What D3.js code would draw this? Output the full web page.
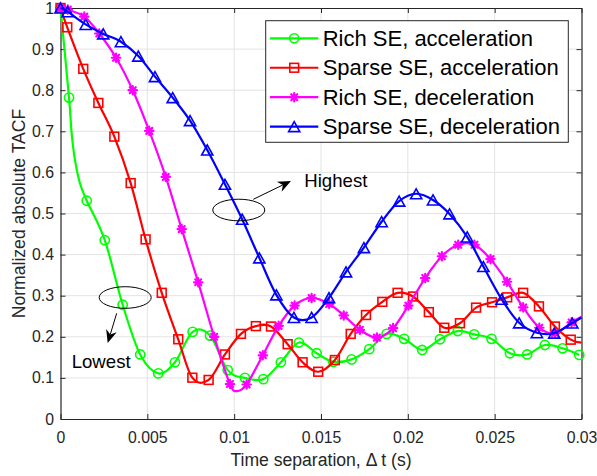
<!DOCTYPE html>
<html>
<head>
<meta charset="utf-8">
<script src="https://cdn.jsdelivr.net/npm/d3@7"></script>
<style>
  html, body { margin: 0; padding: 0; background: #ffffff; }
  svg { display: block; }
  text { font-family: "Liberation Sans", Arial, Helvetica, sans-serif; }
</style>
</head>
<body>
<svg id="chart" width="597" height="476"></svg>
<script>
// ---- data: normalized absolute TACF vs. time separation (s) ----
const seriesNames = [
  "Rich SE, acceleration",
  "Sparse SE, acceleration",
  "Rich SE, deceleration",
  "Sparse SE, deceleration"
];
const seriesColors = ["#00ff00", "#ff0000", "#ff00ff", "#0000ff"];
const seriesMarkers = ["circle", "square", "asterisk", "triangle"];

// marker samples
const richAccelT = [0, 0.00049, 0.00151, 0.00255, 0.00358, 0.00459, 0.00563, 0.00659, 0.00761, 0.00861,
  0.00963, 0.01062, 0.01168, 0.01269, 0.01373, 0.01475, 0.01571, 0.01676, 0.01778, 0.01878,
  0.01979, 0.02083, 0.02185, 0.02287, 0.02382, 0.02482, 0.02588, 0.02687, 0.02789, 0.02891, 0.02987];
const richAccelV = [1.0, 0.782, 0.531, 0.435, 0.278, 0.157, 0.111, 0.138, 0.212, 0.203,
  0.119, 0.100, 0.097, 0.138, 0.186, 0.160, 0.139, 0.145, 0.170, 0.207,
  0.195, 0.168, 0.194, 0.214, 0.206, 0.195, 0.160, 0.157, 0.180, 0.172, 0.156];

const sparseAccelT = [0, 0.00039, 0.00131, 0.00218, 0.0031, 0.00404, 0.0049, 0.00583, 0.00678, 0.00759,
  0.00853, 0.00947, 0.01039, 0.01125, 0.01212, 0.01308, 0.01394, 0.01484, 0.0158, 0.01671,
  0.01759, 0.01853, 0.01941, 0.0203, 0.02121, 0.0221, 0.023, 0.02393, 0.02485, 0.02572,
  0.02664, 0.02755, 0.02847, 0.02938];
const sparseAccelV = [1.0, 0.953, 0.852, 0.769, 0.687, 0.574, 0.437, 0.307, 0.194, 0.1005,
  0.095, 0.157, 0.207, 0.226, 0.225, 0.182, 0.138, 0.115, 0.1435, 0.207,
  0.253, 0.285, 0.307, 0.298, 0.260, 0.222, 0.233, 0.271, 0.284, 0.296,
  0.307, 0.274, 0.225, 0.193];

const richDecelT = [0, 0.00042, 0.00137, 0.00223, 0.0032, 0.00416, 0.00511, 0.00606, 0.00698, 0.00793,
  0.00885, 0.00976, 0.01072, 0.01165, 0.01256, 0.01348, 0.01446, 0.01547, 0.01631, 0.01724,
  0.01822, 0.01915, 0.02003, 0.021, 0.02196, 0.0229, 0.02384, 0.02476, 0.02571, 0.02664,
  0.02757, 0.02847, 0.02943];
const richDecelV = [1.0, 0.996, 0.979, 0.938, 0.879, 0.800, 0.701, 0.589, 0.462, 0.3325,
  0.200, 0.085, 0.084, 0.155, 0.2265, 0.276, 0.2945, 0.280, 0.252, 0.217,
  0.198, 0.221, 0.276, 0.343, 0.396, 0.424, 0.424, 0.389, 0.334, 0.2715,
  0.222, 0.2085, 0.235];

const sparseDecelT = [0, 0.00041, 0.00145, 0.00246, 0.00348, 0.00448, 0.00544, 0.00646, 0.00746, 0.00845,
  0.00947, 0.01046, 0.01145, 0.01243, 0.01344, 0.01446, 0.01546, 0.01644, 0.01747, 0.01849,
  0.0195, 0.02048, 0.02145, 0.0224, 0.02342, 0.02435, 0.0254, 0.02641, 0.02743, 0.02843, 0.02947];
const sparseDecelV = [1.0, 0.991, 0.960, 0.937, 0.918, 0.883, 0.833, 0.782, 0.726, 0.6545,
  0.571, 0.486, 0.392, 0.302, 0.247, 0.247, 0.295, 0.358, 0.417, 0.480,
  0.530, 0.548, 0.533, 0.499, 0.443, 0.371, 0.2915, 0.234, 0.210, 0.209, 0.2335];

// extra curve vertices that carry no marker
const richAccelBendT = [0.000645, 0.000835, 0.00112];   // fast initial decay
const richAccelBendV = [0.6935, 0.630, 0.5735];
const richDecelBendT = [0.01018];                        // deepest fade
const richDecelBendV = [0.068];

// value of each curve at the right end of the window (no marker there)
const tailT = 0.03;
const tailV = [null, 0.186, 0.249, 0.247];

// axis ticks
const xTickValues = [0, 0.005, 0.01, 0.015, 0.02, 0.025, 0.03];
const xTickLabels = ["0", "0.005", "0.01", "0.015", "0.02", "0.025", "0.03"];
const yTickValues = [0, 0.1, 0.2, 0.3, 0.4, 0.5, 0.6, 0.7, 0.8, 0.9, 1];
const yTickLabels = ["0", "0.1", "0.2", "0.3", "0.4", "0.5", "0.6", "0.7", "0.8", "0.9", "1"];

// annotations, in data units
const highestNote = { text: "Highest", cx: 0.010265, cy: 0.5085, fromT: 0.0111, fromV: 0.5345, toT: 0.01327, toV: 0.579, textT: 0.01404, textV: 0.565 };
const lowestNote  = { text: "Lowest",  cx: 0.003725, cy: 0.2956, fromT: 0.003235, fromV: 0.2572, toT: 0.002717, toV: 0.1849, textT: 0.000645, textV: 0.1248 };

// ---- drawing ----
const AXIS_COLOR = "#262626";
const svg = d3.select("#chart");
svg.append("rect").attr("width", 597).attr("height", 476).attr("fill", "#ffffff");

const x = d3.scaleLinear().domain([0, 0.03]).range([60.5, 581.5]);
const y = d3.scaleLinear().domain([0, 1]).range([419, 8]);
const [x0, x1] = x.range();
const [y0, y1] = y.range();

// grid
const grid = svg.append("g").attr("stroke", "#e3e3e3").attr("stroke-width", 1);
grid.selectAll("line.v").data(xTickValues.slice(1, -1)).join("line")
  .attr("x1", d => x(d)).attr("x2", d => x(d)).attr("y1", y0).attr("y2", y1);
grid.selectAll("line.h").data(yTickValues.slice(1, -1)).join("line")
  .attr("x1", x0).attr("x2", x1).attr("y1", d => y(d)).attr("y2", d => y(d));

// axes (box with inward ticks on all four sides)
function styleAxis(g) {
  g.selectAll("path.domain").attr("stroke", AXIS_COLOR).attr("stroke-width", 1.2);
  g.selectAll(".tick line").attr("stroke", AXIS_COLOR).attr("stroke-width", 1);
  g.selectAll(".tick text").attr("fill", AXIS_COLOR)
    .style("font-family", '"Liberation Sans", Arial, sans-serif').style("font-size", "15.8px");
}
const fmtX = d => xTickLabels[xTickValues.indexOf(d)];
const fmtY = d => yTickLabels[yTickValues.indexOf(d)];

svg.append("g").attr("transform", `translate(0,${y0})`)
  .call(d3.axisBottom(x).tickValues(xTickValues).tickFormat(fmtX).tickSize(-5).tickSizeOuter(0).tickPadding(12.5))
  .call(styleAxis);
svg.append("g").attr("transform", `translate(0,${y1})`)
  .call(d3.axisTop(x).tickValues(xTickValues).tickFormat("").tickSize(-5).tickSizeOuter(0))
  .call(styleAxis);
svg.append("g").attr("transform", `translate(${x0},0)`)
  .call(d3.axisLeft(y).tickValues(yTickValues).tickFormat(fmtY).tickSize(-5).tickSizeOuter(0).tickPadding(6.5))
  .call(styleAxis);
svg.append("g").attr("transform", `translate(${x1},0)`)
  .call(d3.axisRight(y).tickValues(yTickValues).tickFormat("").tickSize(-5).tickSizeOuter(0))
  .call(styleAxis);

// axis titles
svg.append("text")
  .attr("x", (x0 + x1) / 2).attr("y", 465.8)
  .attr("text-anchor", "middle").attr("fill", AXIS_COLOR).style("font-size", "17.6px")
  .text("Time separation, \u0394 t (s)");
svg.append("text")
  .attr("transform", `translate(24.5,${(y0 + y1) / 2}) rotate(-90)`)
  .attr("text-anchor", "middle").attr("fill", AXIS_COLOR).style("font-size", "17.6px")
  .text("Normalized absolute TACF");

// marker glyphs
function drawMarker(g, type, color) {
  if (type === "circle") {
    g.append("circle").attr("r", 4.6).attr("fill", "none").attr("stroke", color).attr("stroke-width", 1.6);
  } else if (type === "square") {
    g.append("rect").attr("x", -4.4).attr("y", -4.4).attr("width", 8.8).attr("height", 8.8)
      .attr("fill", "none").attr("stroke", color).attr("stroke-width", 1.6);
  } else if (type === "triangle") {
    g.append("path").attr("d", "M0,-5L5.6,5L-5.6,5Z")
      .attr("fill", "none").attr("stroke", color).attr("stroke-width", 1.6).attr("stroke-linejoin", "miter");
  } else if (type === "asterisk") {
    const r = 4.2, d = 3.0;
    g.append("path").attr("d", `M${-r},0L${r},0M0,${-r}L0,${r}M${-d},${-d}L${d},${d}M${-d},${d}L${d},${-d}`)
      .attr("fill", "none").attr("stroke", color).attr("stroke-width", 2.2).attr("stroke-linecap", "round");
  }
}

const seriesT = [richAccelT, sparseAccelT, richDecelT, sparseDecelT];
const seriesV = [richAccelV, sparseAccelV, richDecelV, sparseDecelV];
const bendT = [richAccelBendT, [], richDecelBendT, []];
const bendV = [richAccelBendV, [], richDecelBendV, []];

const line = d3.line()
  .x(d => x(d[0])).y(d => y(d[1]))
  .curve(d3.curveCatmullRom.alpha(0));

const plot = svg.append("g");
seriesNames.forEach((name, i) => {
  const markerPts = seriesT[i].map((t, k) => [t, seriesV[i][k]]);
  const linePts = markerPts.slice();
  bendT[i].forEach((t, k) => linePts.push([t, bendV[i][k]]));
  if (tailV[i] !== null) linePts.push([tailT, tailV[i]]);
  linePts.sort((a, b) => a[0] - b[0]);

  const g = plot.append("g");
  g.append("path").datum(linePts)
    .attr("d", line)
    .attr("fill", "none").attr("stroke", seriesColors[i])
    .attr("stroke-width", 2.2).attr("stroke-linejoin", "round");
  g.selectAll("g.mk").data(markerPts).join("g")
    .attr("class", "mk")
    .attr("transform", d => `translate(${x(d[0])},${y(d[1])})`)
    .each(function () { drawMarker(d3.select(this), seriesMarkers[i], seriesColors[i]); });
});

// annotations: ellipses, arrows, labels
function arrowHead(g, fx, fy, tx, ty) {
  const ang = Math.atan2(ty - fy, tx - fx) * 180 / Math.PI;
  g.append("path")
    .attr("d", "M0,0L-13,-5.5L-9,0L-13,5.5Z")
    .attr("fill", "#000").attr("transform", `translate(${tx},${ty}) rotate(${ang})`);
}
[highestNote, lowestNote].forEach(n => {
  const g = svg.append("g");
  g.append("ellipse").attr("cx", x(n.cx)).attr("cy", y(n.cy)).attr("rx", 26).attr("ry", 10.8)
    .attr("fill", "none").attr("stroke", "#000").attr("stroke-width", 1);
  const fx = x(n.fromT), fy = y(n.fromV), tx = x(n.toT), ty = y(n.toV);
  const len = Math.hypot(tx - fx, ty - fy);
  const ux = (tx - fx) / len, uy = (ty - fy) / len;
  g.append("line").attr("x1", fx).attr("y1", fy).attr("x2", tx - ux * 9).attr("y2", ty - uy * 9)
    .attr("stroke", "#000").attr("stroke-width", 1);
  arrowHead(g, fx, fy, tx, ty);
  g.append("text").attr("x", x(n.textT)).attr("y", y(n.textV))
    .attr("fill", "#000").style("font-size", "18.6px").text(n.text);
});

// legend
const legend = svg.append("g");
const lgX = 265.7, lgY = 20.7, lgW = 302.6, lgH = 121.6;
legend.append("rect").attr("x", lgX).attr("y", lgY).attr("width", lgW).attr("height", lgH)
  .attr("fill", "#ffffff").attr("stroke", AXIS_COLOR).attr("stroke-width", 1);
seriesNames.forEach((name, i) => {
  const cy = 38.3 + i * 29.45;
  const row = legend.append("g");
  row.append("line").attr("x1", 270).attr("x2", 318.3).attr("y1", cy).attr("y2", cy)
    .attr("stroke", seriesColors[i]).attr("stroke-width", 2.2);
  const mg = row.append("g").attr("transform", `translate(294.2,${cy})`);
  drawMarker(mg, seriesMarkers[i], seriesColors[i]);
  row.append("text").attr("x", 322.7).attr("y", cy + 7.6)
    .attr("fill", "#000").style("font-size", "22px").text(name);
});
</script>
</body>
</html>
